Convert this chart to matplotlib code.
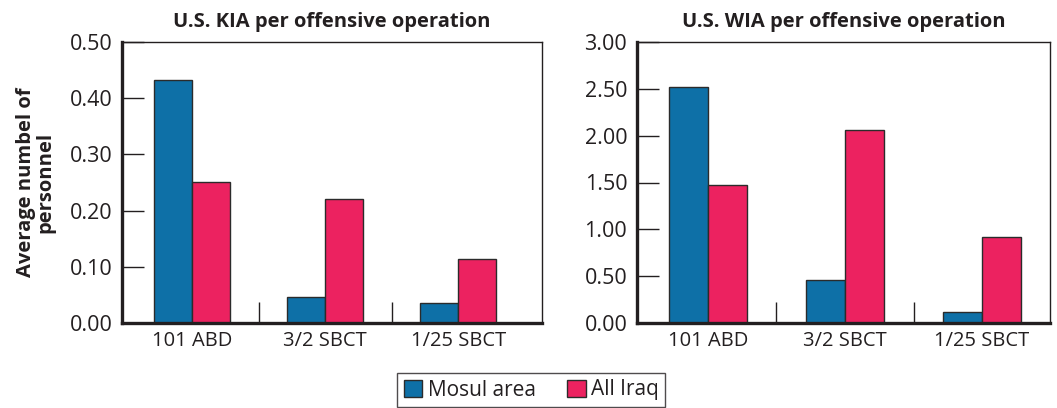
import matplotlib
matplotlib.use("Agg")
import matplotlib.pyplot as plt
import numpy as np
from matplotlib.patches import Patch

plt.rcParams['font.family'] = ['Open Sans', 'DejaVu Sans']

units = ["101 ABD", "3/2 SBCT", "1/25 SBCT"]
series = ["Mosul area", "All Iraq"]
kia_mosul = [0.433, 0.047, 0.036]
kia_iraq = [0.251, 0.221, 0.113]
wia_mosul = [2.52, 0.46, 0.12]
wia_iraq = [1.47, 2.06, 0.915]
kia_ticks = [0.0, 0.1, 0.2, 0.3, 0.4, 0.5]
wia_ticks = [0.0, 0.5, 1.0, 1.5, 2.0, 2.5, 3.0]

blue = "#0e70a7"
red = "#ec2260"
edge = "#2b2b2b"
ink = "#231f20"

W, H = 1057, 408
fig = plt.figure(figsize=(W / 100, H / 100), dpi=100)

ax1 = fig.add_axes([122 / W, 85 / H, 420 / W, 281 / H])
ax2 = fig.add_axes([637 / W, 85 / H, 413 / W, 281 / H])


def draw(ax, mosul, iraq, ticks, title, xlim):
    x = np.arange(len(units))
    w = 0.285
    ax.bar(x - w / 2, mosul, w, color=blue, edgecolor=edge, linewidth=1.0)
    ax.bar(x + w / 2, iraq, w, color=red, edgecolor=edge, linewidth=1.0)
    ax.set_xlim(*xlim)
    ax.set_ylim(ticks[0], ticks[-1])
    ax.set_yticks(ticks)
    ax.set_yticklabels([f"{t:.2f}" for t in ticks], fontsize=15.5, color=ink)
    ax.set_xticks(x)
    ax.set_xticklabels(units, fontsize=14.5, color=ink)
    ax.set_xticks(x[:-1] + 0.5, minor=True)
    ax.tick_params(axis="x", which="major", length=0, pad=6)
    ax.tick_params(axis="x", which="minor", direction="in", length=15,
                   width=1.0, color=ink)
    ax.tick_params(axis="y", which="major", direction="in", length=16,
                   width=1.0, color=ink, pad=7)
    for s in ("left", "bottom"):
        ax.spines[s].set_linewidth(2.4)
        ax.spines[s].set_color(ink)
    for s in ("top", "right"):
        ax.spines[s].set_linewidth(1.0)
        ax.spines[s].set_color(ink)
    ax.set_title(title, fontsize=14.5, fontweight="bold", color=ink, pad=11)


draw(ax1, kia_mosul, kia_iraq, kia_ticks, "U.S. KIA per offensive operation", (-0.526, 2.63))
draw(ax2, wia_mosul, wia_iraq, wia_ticks, "U.S. WIA per offensive operation", (-0.518, 2.496))

ax1.set_ylabel("Average numbel of\npersonnel", fontsize=14.5, fontweight="bold",
               color=ink, labelpad=10, linespacing=0.95)

handles = [Patch(facecolor=blue, edgecolor=edge, label=series[0]),
           Patch(facecolor=red, edgecolor=edge, label=series[1])]
fig.legend(handles=handles, loc="center", bbox_to_anchor=(531 / W, 1 - 390 / H),
           ncol=2, fontsize=15, frameon=True, fancybox=False, edgecolor=ink,
           handlelength=0.9, handleheight=0.85, handletextpad=0.25, columnspacing=1.5,
           borderpad=0.3, labelcolor=ink)

fig.savefig("out.png", dpi=100)
